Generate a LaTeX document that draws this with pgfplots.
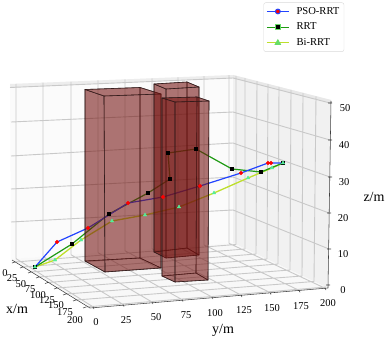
\documentclass[border=0pt]{standalone}
\usepackage{fontspec}
\setmainfont{Liberation Serif}
\usepackage{pgfplots}
\pgfplotsset{compat=1.18}

\definecolor{gridc}{HTML}{C9C9C9}
\definecolor{wallL}{HTML}{FBFBFB}
\definecolor{wallR}{HTML}{F1F1F1}
\definecolor{floorc}{HTML}{F8F8F8}
\definecolor{obst}{HTML}{73110E}
\definecolor{obstedge}{HTML}{2E1A1A}
\definecolor{psoc}{HTML}{2244FF}
\definecolor{rrtc}{HTML}{1E9A12}
\definecolor{birrtc}{HTML}{BEDF2C}
\definecolor{tric}{HTML}{55EE99}
\definecolor{legtri}{HTML}{66DD66}

% one obstacle face, pixel positions of the projected scene
\newcommand{\face}[1]{\addplot[forget plot, fill=obst, fill opacity=0.35, draw=obstedge, draw opacity=0.8, line width=0.6pt, line join=round] coordinates {#1} --cycle;}
\newcommand{\tl}[3]{\node[font=\fontsize{10.5}{12}\selectfont] at (axis cs:#1,#2) {#3};}
\newcommand{\al}[3]{\node[font=\fontsize{14}{16}\selectfont] at (axis cs:#1,#2) {#3};}

\begin{document}
\begin{tikzpicture}
\path[use as bounding box] (0,0) rectangle (388pt,339pt);
\begin{axis}[
    scale only axis,
    width=388pt, height=339pt,
    xmin=0, xmax=388, ymin=0, ymax=339,
    y dir=reverse,
    hide axis,
    clip=false,
    unbounded coords=jump,
    legend style={at={(263.5/388,1-2.5/339)}, anchor=north west, draw=black!15, rounded corners=2pt,
        font=\fontsize{10.6}{12}\selectfont, inner xsep=2.5pt, inner ysep=2.5pt,
        row sep=3.2pt, fill=white},
    legend cell align=left,
    legend image code/.code={\path (0pt,0pt) (27pt,0pt);
        \draw[#1, mark=none] plot coordinates {(0pt,0pt) (22pt,0pt)};
        \draw[#1, only marks] plot coordinates {(11pt,0pt)};},
]
\addlegendimage{psoc, line width=1pt, mark=*, mark size=2.4pt, mark options={fill=red, draw=psoc}}
\addlegendimage{rrtc, line width=1pt, mark=square*, mark size=2.2pt, mark options={fill=black, draw=legtri}}
\addlegendimage{birrtc, line width=1.3pt, mark=triangle*, mark size=2.6pt, mark options={fill=legtri, draw=legtri}}

% panes
\addplot[forget plot, fill=wallL, draw=none] coordinates {(10,84) (233,75) (233,243) (11,259)} --cycle;
\addplot[forget plot, fill=wallR, draw=none] coordinates {(233,75) (331,100) (328,288) (233,243)} --cycle;
\addplot[forget plot, fill=floorc, draw=none] coordinates {(11,259) (233,243) (328,288) (90,307)} --cycle;
\addplot[forget plot, fill=black!7, draw=none] coordinates {(10,84) (233,75) (233,78) (10,87.5)} --cycle;
\addplot[forget plot, fill=black!9, draw=none] coordinates {(233,75) (331,100) (331,103) (233,78)} --cycle;

% grid, left wall
\addplot[forget plot, gridc, line width=0.9pt] coordinates {
    (16,83.8) (16,258.6) (0,nan) (43,82.7) (43,256.6) (0,nan) (71,81.6) (71,254.7) (0,nan)
    (98,80.5) (98,252.7) (0,nan) (125,79.4) (125,250.8) (0,nan) (152,78.4) (152,248.8) (0,nan)
    (178,77.3) (178,246.9) (0,nan) (204,76.2) (204,245) (0,nan) (229,75.2) (229,243.3) (0,nan)
    (10,87.5) (233,78) (0,nan) (11,122) (233,112) (0,nan) (11,156) (233,143) (0,nan)
    (11,189) (233,177) (0,nan) (11,222) (233,210)
};
% grid, right wall
\addplot[forget plot, gridc, line width=0.9pt] coordinates {
    (236,76) (236,244.5) (0,nan) (245,78) (245,249) (0,nan) (257,81) (256,254) (0,nan)
    (268,84) (267,259) (0,nan) (279,87) (278,264) (0,nan) (291,90) (290,270) (0,nan)
    (303,93) (302,276) (0,nan) (316,96.4) (314,281.5) (0,nan)
    (233,78) (330,103) (0,nan) (233,112) (330,140) (0,nan) (233,143) (330,177) (0,nan)
    (233,177) (329,213) (0,nan) (233,210) (329,249)
};
% grid, floor
\addplot[forget plot, gridc, line width=0.9pt] coordinates {
    (93,306.8) (16,258.6) (0,nan) (123,304.4) (43,256.6) (0,nan) (152,302) (71,254.7) (0,nan)
    (182,299.6) (98,252.7) (0,nan) (212,297) (125,250.8) (0,nan) (241,295) (152,248.8) (0,nan)
    (270,292.6) (178,246.9) (0,nan) (299,290.3) (204,245) (0,nan) (325,288.2) (229,243.3) (0,nan)
    (15,262) (236,244.5) (0,nan) (23,267) (245,249) (0,nan) (31,272) (256,254) (0,nan)
    (39,277) (267,259) (0,nan) (48,282.5) (278,264) (0,nan) (57,288) (290,270) (0,nan)
    (66,294) (302,276) (0,nan) (76,300) (314,281.5) (0,nan) (86,307) (326,287)
};
% axis edges and ticks
\addplot[forget plot, black!75, line width=0.55pt] coordinates {
    (12,260) (90,308) (328,288) (0,nan) (328,288) (331,101) (0,nan)
    (15,262) (12,263) (0,nan) (23,267) (20,268) (0,nan) (31,272) (28,273) (0,nan)
    (39,277) (36,278) (0,nan) (48,282.5) (45,283.5) (0,nan) (57,288) (54,289) (0,nan)
    (66,294) (63,295) (0,nan) (76,300) (73,301) (0,nan) (86,307) (83,308) (0,nan)
    (93,306.8) (94,309) (0,nan) (123,304.4) (124,306.5) (0,nan) (152,302) (153,304) (0,nan)
    (182,299.6) (183,301.6) (0,nan) (212,297) (213,299) (0,nan) (241,295) (242,297) (0,nan)
    (270,292.6) (271,294.6) (0,nan) (299,290.3) (300,292.3) (0,nan) (325,288.2) (326,290) (0,nan)
    (328,103) (332,103) (0,nan) (328,140) (332,140) (0,nan) (328,177) (332,177) (0,nan)
    (327,213) (331,213) (0,nan) (327,249) (331,249) (0,nan) (326,285) (330,285)
};

% paths under the obstacles
\addplot[forget plot, birrtc, line width=1.3pt, no markers] coordinates {
    (35,267) (55,260) (81,240) (112,221) (145,215) (179,207) (214,193) (248,178) (272,168) (283,163)
};
\addplot[forget plot, rrtc, line width=1.2pt, no markers] coordinates {
    (35,267) (72,244) (109,214) (148,193) (170,179) (168,153) (196,149) (232,169) (261,172) (283,163)
};
\addplot[forget plot, psoc, line width=1.2pt, no markers] coordinates {
    (35,267) (57,242) (88,228) (128,203) (163,197) (200,186) (241,173) (268,163) (271,163) (283,163)
};
% markers seen through the obstacles
\addplot[forget plot, only marks, black, mark=square*, mark size=1.6pt] coordinates {
    (35,267) (72,244) (232,169) (261,172) (283,163) (109,214) (170,179) (168,153) (196,149)
};
\addplot[forget plot, only marks, tric, mark=triangle*, mark size=2pt] coordinates {
    (35,267) (55,260) (81,240) (112,221) (145,215) (179,207) (214,193) (248,178) (272,168) (283,163)
};

% obstacles
% box A
\face{(85,261) (140,258) (161,268) (105,272)}
\face{(85,89.5) (140,87.5) (140,258) (85,261)}
\face{(85,89.5) (104,96) (105,272) (85,261)}
\face{(140,87.5) (161,94) (161,268) (140,258)}
\face{(104,96) (161,94) (161,268) (105,272)}
\face{(85,89.5) (140,87.5) (161,94) (104,96)}
% box B
\face{(154,252) (187,248) (199,255) (166,258)}
\face{(154,84) (187,82) (187,248) (154,252)}
\face{(154,84) (166,89) (166,258) (154,252)}
\face{(187,82) (199,87) (199,255) (187,248)}
\face{(166,89) (199,87) (199,255) (166,258)}
\face{(154,84) (187,82) (199,87) (166,89)}
% box C
\face{(162,276) (196,273) (208,280) (175,282)}
\face{(162,98) (197,97) (196,273) (162,276)}
\face{(162,98) (175,102) (175,282) (162,276)}
\face{(197,97) (209,101) (208,280) (196,273)}
\face{(175,102) (209,101) (208,280) (175,282)}
\face{(162,98) (197,97) (209,101) (175,102)}

% markers that sit in front of the obstacles
\addplot[forget plot, only marks, red, mark=*, mark size=1.9pt] coordinates {
    (57,242) (88,228) (128,203) (163,197) (200,186) (241,173) (268,163) (271,163)
};
\addplot[forget plot, only marks, black, mark=square*, mark size=1.6pt] coordinates {
    (148,193)
};

% tick labels
\tl{5}{273}{0} \tl{12}{278}{25} \tl{21}{284}{50} \tl{30}{289}{75} \tl{38}{295}{100}
\tl{47}{300}{125} \tl{56}{305}{150} \tl{65}{312}{175} \tl{75}{320}{200}
\tl{96}{322}{0} \tl{126}{320}{25} \tl{156}{317}{50} \tl{186}{315}{75} \tl{215}{313}{100}
\tl{244}{310}{125} \tl{272}{308}{150} \tl{301}{306}{175} \tl{328}{303}{200}
\tl{345}{108}{50} \tl{344}{145}{40} \tl{344}{182}{30} \tl{343}{218}{20} \tl{343}{254}{10} \tl{343}{290}{0}
\al{17}{309}{x/m} \al{223}{330}{y/m} \al{374}{197}{z/m}

\legend{PSO-RRT,RRT,Bi-RRT}
\end{axis}
\end{tikzpicture}
\end{document}
